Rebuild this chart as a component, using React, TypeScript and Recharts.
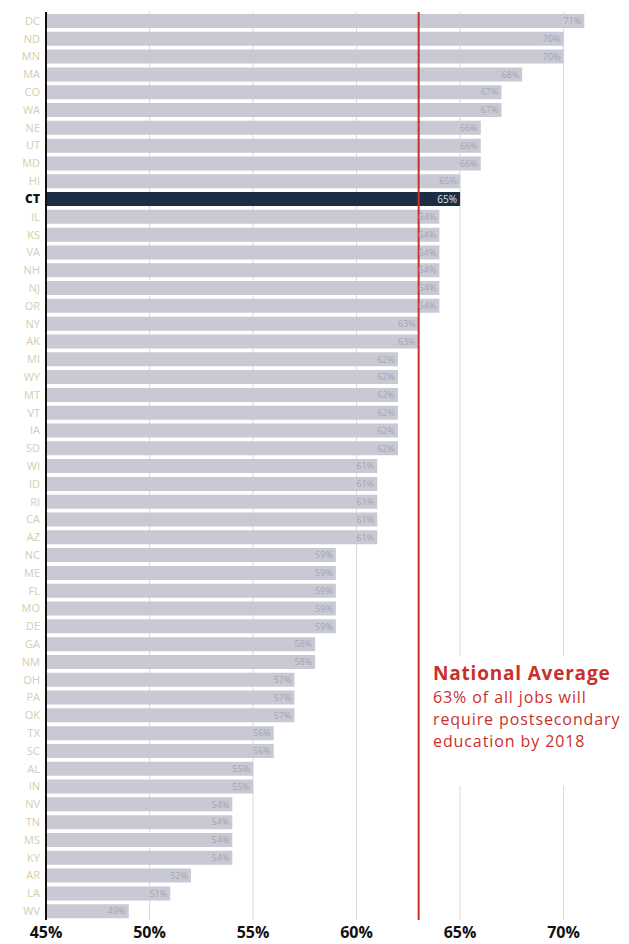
import {
  BarChart,
  Bar,
  XAxis,
  YAxis,
  CartesianGrid,
  ReferenceLine,
  LabelList,
  Cell,
} from "recharts";

const states = [
  "DC", "ND", "MN", "MA", "CO", "WA", "NE", "UT", "MD", "HI",
  "CT", "IL", "KS", "VA", "NH", "NJ", "OR", "NY", "AK", "MI",
  "WY", "MT", "VT", "IA", "SD", "WI", "ID", "RI", "CA", "AZ",
  "NC", "ME", "FL", "MO", "DE", "GA", "NM", "OH", "PA", "OK",
  "TX", "SC", "AL", "IN", "NV", "TN", "MS", "KY", "AR", "LA", "WV",
];

const shares = [
  71, 70, 70, 68, 67, 67, 66, 66, 66, 65,
  65, 64, 64, 64, 64, 64, 64, 63, 63, 62,
  62, 62, 62, 62, 62, 61, 61, 61, 61, 61,
  59, 59, 59, 59, 59, 58, 58, 57, 57, 57,
  56, 56, 55, 55, 54, 54, 54, 54, 52, 51, 49,
];

const xTicks = [45, 50, 55, 60, 65, 70];
const nationalAverage = 63;
const highlight = "CT";

const data = states.map((state, i) => ({ state, share: shares[i] }));

const BAR = "#c8c9d4";
const HIGHLIGHT = "#1d2e44";
const RED = "#c9302c";
const FONT = "'Open Sans', sans-serif";

function StateTick({ x, y, payload }: any) {
  const hl = payload.value === highlight;
  return (
    <text
      x={x}
      y={y}
      dy="0.36em"
      textAnchor="end"
      fontFamily={FONT}
      fontSize={hl ? 12 : 11}
      fontWeight={hl ? 800 : 400}
      fill={hl ? "#111" : "#d7cbb2"}
    >
      {payload.value}
    </text>
  );
}

function ValueLabel({ x, y, width, height, value, index }: any) {
  const hl = states[index] === highlight;
  return (
    <text
      x={x + width - 3}
      y={y + height / 2}
      dy="0.36em"
      textAnchor="end"
      fontFamily={FONT}
      fontSize={hl ? 10 : 9}
      fill={hl ? "#dfe3ea" : "#a4a6b1"}
    >
      {value}%
    </text>
  );
}

export default function App() {
  return (
    <div style={{ position: "absolute", left: 0, top: 0, width: 629, height: 944, background: "#fff" }}>
      <BarChart
        width={629}
        height={944}
        data={data}
        layout="vertical"
        margin={{ top: 12, right: 24, bottom: 0, left: 0 }}
        barSize={14}
      >
        <CartesianGrid horizontal={false} stroke="#d9d9d9" syncWithTicks />
        <XAxis
          type="number"
          domain={[45, 72]}
          ticks={xTicks}
          allowDataOverflow
          axisLine={false}
          tickLine={false}
          height={24}
          tickMargin={1}
          tickFormatter={(v) => `${v}%`}
          tick={{ fill: "#111", fontSize: 16, fontWeight: 700, fontFamily: FONT }}
        />
        <YAxis
          type="category"
          dataKey="state"
          width={46}
          tickLine={false}
          tickSize={0}
          tickMargin={6}
          interval={0}
          axisLine={{ stroke: "#111", strokeWidth: 2 }}
          tick={<StateTick />}
        />
        <Bar dataKey="share" isAnimationActive={false}>
          {data.map((d) => (
            <Cell key={d.state} fill={d.state === highlight ? HIGHLIGHT : BAR} />
          ))}
          <LabelList dataKey="share" content={<ValueLabel />} />
        </Bar>
        <ReferenceLine x={nationalAverage} stroke={RED} strokeWidth={2} />
      </BarChart>
      <div
        style={{
          position: "absolute",
          left: 424,
          top: 656,
          width: 205,
          height: 130,
          background: "#fff",
          fontFamily: FONT,
          color: RED,
          paddingLeft: 9,
          boxSizing: "border-box",
        }}
      >
        <div style={{ fontSize: 19, fontWeight: 700, letterSpacing: 0.8, lineHeight: "26px", marginTop: 4 }}>
          National Average
        </div>
        <div style={{ fontSize: 16, letterSpacing: 0.9, lineHeight: "22px" }}>
          63% of all jobs will
          <br />
          require postsecondary
          <br />
          education by 2018
        </div>
      </div>
    </div>
  );
}
